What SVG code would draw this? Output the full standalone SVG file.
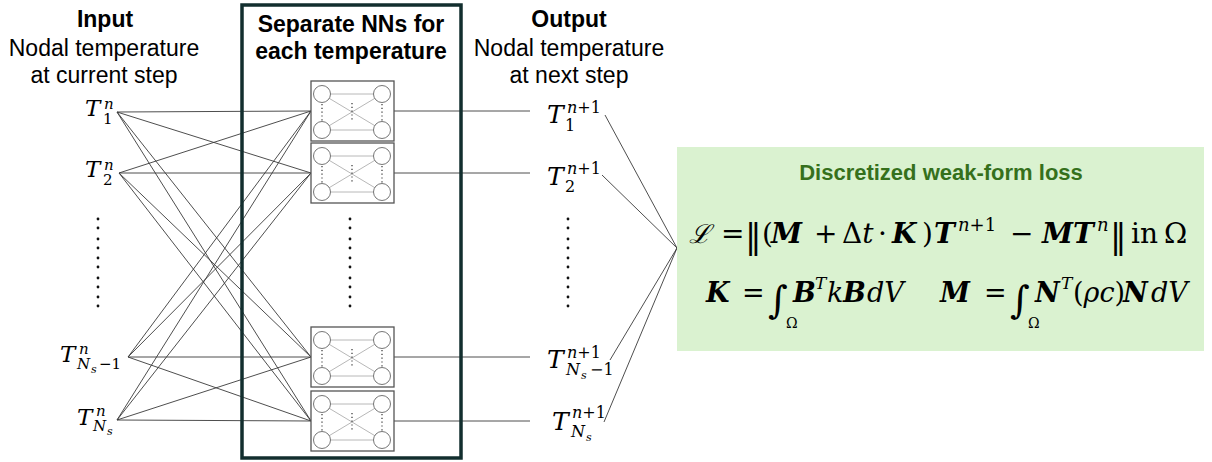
<svg xmlns="http://www.w3.org/2000/svg" width="1212" height="462" viewBox="0 0 1212 462">
<style>
.hdr{font-family:"Liberation Sans",Arial,sans-serif;font-size:23px;fill:#000;text-anchor:middle}
.b{font-weight:bold}
.m{font-family:"DejaVu Serif","Liberation Serif",serif;fill:#000}
.it{font-style:italic}
.bi{font-style:italic;font-weight:bold}
.conn line{stroke:#3a3a3a;stroke-width:0.9}
.dot{fill:#111}
.nnbox{fill:#fff;stroke:#555;stroke-width:1.3}
.nnc{fill:#fff;stroke:#666;stroke-width:0.9}
.nnl{stroke:#b8b8b8;stroke-width:1}
.nnd{stroke:#333;stroke-width:1.2;stroke-dasharray:1.2 2.6}
</style>
<defs>
<g id="nn">
<rect class="nnbox" x="0" y="0" width="83" height="60"/>
<line class="nnl" x1="11" y1="13" x2="71" y2="13"/>
<line class="nnl" x1="11" y1="49" x2="71" y2="49"/>
<line class="nnl" x1="11" y1="13" x2="71" y2="49"/>
<line class="nnl" x1="11" y1="49" x2="71" y2="13"/>
<circle class="nnc" cx="11" cy="13" r="8.5"/>
<circle class="nnc" cx="71" cy="13" r="8.5"/>
<circle class="nnc" cx="11" cy="49" r="8.5"/>
<circle class="nnc" cx="71" cy="49" r="8.5"/>
<line class="nnd" x1="11" y1="23" x2="11" y2="40"/>
<line class="nnd" x1="71" y1="23" x2="71" y2="40"/>
<line class="nnd" x1="41" y1="22" x2="41" y2="40"/>
</g>
<g id="vdots">
<circle cx="0" cy="0" r="1.4"/><circle cx="0" cy="9" r="1.4"/>
<circle cx="0" cy="20" r="1.4"/><circle cx="0" cy="29" r="1.4"/>
<circle cx="0" cy="39" r="1.4"/><circle cx="0" cy="48" r="1.4"/>
<circle cx="0" cy="59" r="1.4"/><circle cx="0" cy="68" r="1.4"/>
<circle cx="0" cy="78" r="1.4"/><circle cx="0" cy="87" r="1.4"/>
</g>
</defs>

<g id="connectors" class="conn">
<line x1="117" y1="112" x2="311" y2="111"/>
<line x1="117" y1="112" x2="311" y2="173"/>
<line x1="117" y1="112" x2="311" y2="357"/>
<line x1="117" y1="112" x2="311" y2="421"/>
<line x1="119" y1="173" x2="311" y2="111"/>
<line x1="119" y1="173" x2="311" y2="173"/>
<line x1="119" y1="173" x2="311" y2="357"/>
<line x1="119" y1="173" x2="311" y2="421"/>
<line x1="128" y1="357" x2="311" y2="111"/>
<line x1="128" y1="357" x2="311" y2="173"/>
<line x1="128" y1="357" x2="311" y2="357"/>
<line x1="128" y1="357" x2="311" y2="421"/>
<line x1="117" y1="420" x2="311" y2="111"/>
<line x1="117" y1="420" x2="311" y2="173"/>
<line x1="117" y1="420" x2="311" y2="357"/>
<line x1="117" y1="420" x2="311" y2="421"/>
<line x1="394" y1="111" x2="530" y2="111"/>
<line x1="394" y1="173" x2="530" y2="173"/>
<line x1="394" y1="357" x2="530" y2="357"/>
<line x1="394" y1="421" x2="530" y2="421"/>
<line x1="605" y1="115" x2="677" y2="248"/>
<line x1="602" y1="175" x2="677" y2="248"/>
<line x1="610" y1="360" x2="677" y2="248"/>
<line x1="604" y1="422" x2="677" y2="248"/>
</g>

<g id="input">
<text class="hdr b" x="105" y="27">Input</text>
<text class="hdr" x="104" y="56">Nodal temperature</text>
<text class="hdr" x="104" y="83">at current step</text>
<use href="#vdots" class="dot" x="98" y="219"/>
</g>

<g id="in-T1" class="m">
<text class="it" x="85" y="116" font-size="23">T</text>
<text class="it" x="104" y="109" font-size="15">n</text>
<text x="103" y="124" font-size="15">1</text>
</g>
<g id="in-T2" class="m">
<text class="it" x="85" y="177" font-size="23">T</text>
<text class="it" x="104" y="170" font-size="15">n</text>
<text x="103" y="185" font-size="15">2</text>
</g>
<g id="in-TNs1" class="m">
<text class="it" x="60" y="362" font-size="23">T</text>
<text class="it" x="79" y="354" font-size="15">n</text>
<text class="it" x="77" y="369" font-size="15">N</text>
<text class="it" x="91" y="373" font-size="11">s</text>
<text x="99" y="369" font-size="15">−1</text>
</g>
<g id="in-TNs" class="m">
<text class="it" x="77" y="425" font-size="23">T</text>
<text class="it" x="96" y="416" font-size="15">n</text>
<text class="it" x="93" y="431" font-size="15">N</text>
<text class="it" x="107" y="435" font-size="11">s</text>
</g>

<g id="nn-group">
<rect x="242" y="5" width="219" height="453" fill="none" stroke="#122e2e" stroke-width="3.5"/>
<text class="hdr b" x="351" y="32">Separate NNs for</text>
<text class="hdr b" x="351" y="59">each temperature</text>
<use href="#vdots" class="dot" x="350" y="219"/>
</g>
<g id="nn1"><use href="#nn" x="311" y="81"/></g>
<g id="nn2"><use href="#nn" x="311" y="143"/></g>
<g id="nn3"><use href="#nn" x="311" y="327"/></g>
<g id="nn4"><use href="#nn" x="311" y="391"/></g>

<g id="output">
<text class="hdr b" x="569" y="27">Output</text>
<text class="hdr" x="569" y="56">Nodal temperature</text>
<text class="hdr" x="569" y="83">at next step</text>
<use href="#vdots" class="dot" x="568" y="219"/>
</g>
<g id="out-T1" class="m">
<text class="it" x="547" y="123" font-size="25">T</text>
<text x="567" y="113" font-size="16"><tspan class="it">n</tspan>+1</text>
<text x="565" y="131" font-size="16">1</text>
</g>
<g id="out-T2" class="m">
<text class="it" x="547" y="185" font-size="25">T</text>
<text x="567" y="174" font-size="16"><tspan class="it">n</tspan>+1</text>
<text x="565" y="192" font-size="16">2</text>
</g>
<g id="out-TNs1" class="m">
<text class="it" x="547" y="368" font-size="25">T</text>
<text x="567" y="358" font-size="16"><tspan class="it">n</tspan>+1</text>
<text class="it" x="566" y="375" font-size="16">N</text>
<text class="it" x="581" y="379" font-size="11">s</text>
<text x="590" y="375" font-size="16">−1</text>
</g>
<g id="out-TNs" class="m">
<text class="it" x="552" y="430" font-size="25">T</text>
<text x="572" y="418" font-size="16"><tspan class="it">n</tspan>+1</text>
<text class="it" x="571" y="437" font-size="16">N</text>
<text class="it" x="586" y="441" font-size="11">s</text>
</g>

<g id="loss">
<rect x="677" y="147" width="527" height="204" fill="#daf2d0"/>
<text x="941" y="180" font-family="Liberation Sans,Arial,sans-serif" font-size="22" font-weight="bold" fill="#35701c" text-anchor="middle">Discretized weak-form loss</text>
<text class="m" font-size="28" y="243">
<tspan x="689" y="243" font-size="26" font-style="italic">ℒ</tspan>
<tspan x="721" y="243">=</tspan>
<tspan x="745" y="248" font-size="33">‖</tspan>
<tspan x="762" y="243">(</tspan>
<tspan x="771" y="243" class="bi">M</tspan>
<tspan x="814" y="243">+</tspan>
<tspan x="842" y="243">Δ</tspan><tspan class="it">t</tspan>
<tspan x="878" y="243">·</tspan>
<tspan x="892" y="243" class="bi">K</tspan>
<tspan x="922" y="243">)</tspan>
<tspan x="934" y="243" class="bi">T</tspan>
<tspan x="958" y="231" font-size="18" class="it">n</tspan><tspan y="231" font-size="18">+1</tspan>
<tspan x="1010" y="243">−</tspan>
<tspan x="1042" y="243" class="bi">MT</tspan>
<tspan x="1097" y="231" font-size="18" class="it">n</tspan>
<tspan x="1110" y="248" font-size="33">‖</tspan>
<tspan x="1131" y="243">in</tspan>
<tspan x="1164" y="243">Ω</tspan>
</text>
<text class="m" font-size="27" y="302">
<tspan x="706" y="302" class="bi">K</tspan>
<tspan x="742" y="302">=</tspan>
<tspan x="768" y="313" font-size="38">∫</tspan>
<tspan x="786" y="328" font-size="14">Ω</tspan>
<tspan x="793" y="302" class="bi">B</tspan>
<tspan x="815" y="289" font-size="17" class="it">T</tspan>
<tspan x="827" y="302" class="it">k</tspan>
<tspan x="843" y="302" class="bi">B</tspan>
<tspan x="867" y="302" class="it">dV</tspan>
<tspan x="940" y="302" class="bi">M</tspan>
<tspan x="984" y="302">=</tspan>
<tspan x="1010" y="313" font-size="38">∫</tspan>
<tspan x="1028" y="328" font-size="14">Ω</tspan>
<tspan x="1035" y="302" class="bi">N</tspan>
<tspan x="1061" y="289" font-size="17" class="it">T</tspan>
<tspan x="1073" y="302">(</tspan><tspan class="it">ρc</tspan><tspan>)</tspan>
<tspan x="1123" y="302" class="bi">N</tspan>
<tspan x="1151" y="302" class="it">dV</tspan>
</text>
</g>
</svg>
